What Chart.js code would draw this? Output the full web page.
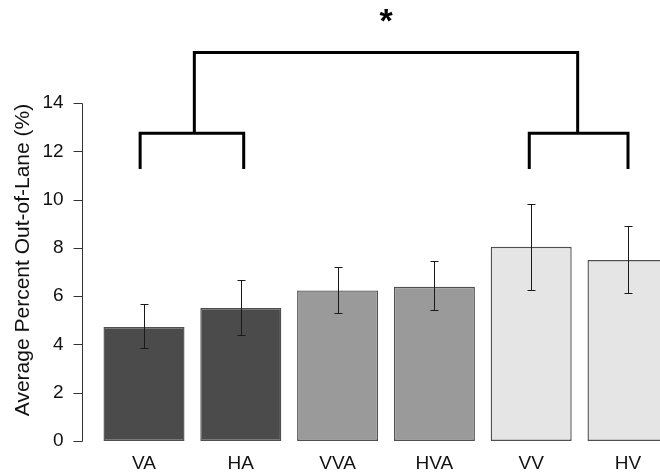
<!DOCTYPE html>
<html><head><meta charset="utf-8">
<script src="https://cdn.jsdelivr.net/npm/chart.js@4.4.1/dist/chart.umd.min.js"></script>
<style>html,body{margin:0;padding:0;overflow:hidden;background:#fff}</style>
</head><body>
<canvas id="c" width="700" height="475" style="display:block;width:700px;height:475px"></canvas>
<script>
// ---- data ----
const categories = ['VA', 'HA', 'VVA', 'HVA', 'VV', 'HV'];
const meanValues = [4.72, 5.51, 6.24, 6.39, 8.05, 7.50];
const errorUpper = [5.66, 6.66, 7.19, 7.44, 9.82, 8.92];
const errorLower = [3.84, 4.38, 5.30, 5.41, 6.27, 6.13];
const yTickValues = [0, 2, 4, 6, 8, 10, 12, 14];
const yAxisTitle = 'Average Percent Out-of-Lane (%)';
// significance brackets (x in category-index units, y in data units)
const innerBrackets = [
  { from: -0.04, to: 1.03, base: 11.27, top: 12.75 },
  { from: 3.98, to: 5.0, base: 11.27, top: 12.75 }
];
const outerBracket = { from: 0.52, to: 4.48, base: 12.75, top: 16.1 };
const sigLabel = '*';
const sigLabelY = 17.65;

// ---- styles ----
const barColors = ['#4b4b4b', '#4b4b4b', '#9a9a9a', '#9a9a9a', '#e5e5e5', '#e5e5e5'];
const FONT = '"Liberation Sans", Arial, sans-serif';

const overlay = {
  id: 'overlay',
  afterDatasetsDraw(chart) {
    const ctx = chart.ctx, x = chart.scales.x, y = chart.scales.y;
    ctx.save();
    // error bars
    ctx.strokeStyle = '#1a1a1a';
    ctx.lineWidth = 1;
    meanValues.forEach((v, i) => {
      const px = Math.round(x.getPixelForValue(i)) + 0.5;
      const yt = Math.round(y.getPixelForValue(errorUpper[i])) + 0.5;
      const yb = Math.round(y.getPixelForValue(errorLower[i])) + 0.5;
      ctx.beginPath();
      ctx.moveTo(px, yt); ctx.lineTo(px, yb);
      ctx.moveTo(px - 4, yt); ctx.lineTo(px + 4, yt);
      ctx.moveTo(px - 4, yb); ctx.lineTo(px + 4, yb);
      ctx.stroke();
    });
    // y axis line & tick marks (R style, only across tick range)
    const ax = Math.round(chart.chartArea.left - 14) + 0.5;
    ctx.strokeStyle = '#333';
    ctx.beginPath();
    ctx.moveTo(ax, Math.round(y.getPixelForValue(yTickValues[0])) + 0.5);
    ctx.lineTo(ax, Math.round(y.getPixelForValue(yTickValues[yTickValues.length - 1])) + 0.5);
    yTickValues.forEach(t => {
      const py = Math.round(y.getPixelForValue(t)) + 0.5;
      ctx.moveTo(ax - 9, py); ctx.lineTo(ax, py);
    });
    ctx.stroke();
    // brackets
    ctx.strokeStyle = '#000';
    ctx.lineWidth = 3;
    ctx.lineJoin = 'miter';
    ctx.lineCap = 'butt';
    const drawBracket = b => {
      const x1 = x.getPixelForValue(b.from), x2 = x.getPixelForValue(b.to);
      const yb = y.getPixelForValue(b.base), yt = y.getPixelForValue(b.top);
      ctx.beginPath();
      ctx.moveTo(x1, yb); ctx.lineTo(x1, yt); ctx.lineTo(x2, yt); ctx.lineTo(x2, yb);
      ctx.stroke();
    };
    innerBrackets.forEach(drawBracket);
    drawBracket(outerBracket);
    // star
    ctx.fillStyle = '#000';
    ctx.font = 'bold 34px ' + FONT;
    ctx.textAlign = 'center';
    ctx.textBaseline = 'alphabetic';
    const m = ctx.measureText(sigLabel);
    const cy = y.getPixelForValue(sigLabelY);
    const baseline = cy + (m.actualBoundingBoxAscent - m.actualBoundingBoxDescent) / 2;
    const cx = x.getPixelForValue((outerBracket.from + outerBracket.to) / 2);
    ctx.fillText(sigLabel, cx, baseline);
    ctx.restore();
  }
};

new Chart(document.getElementById('c'), {
  type: 'bar',
  data: {
    labels: categories,
    datasets: [{
      data: meanValues,
      backgroundColor: barColors,
      borderColor: '#505050',
      borderWidth: 1.4,
      borderSkipped: false,
      categoryPercentage: 1,
      barPercentage: 0.837
    }]
  },
  options: {
    responsive: false,
    animation: false,
    events: [],
    layout: { padding: { top: 79, left: 0, right: 23.6, bottom: 0 } },
    plugins: { legend: { display: false }, tooltip: { enabled: false } },
    scales: {
      x: {
        grid: { display: false, drawTicks: false },
        border: { display: false },
        ticks: { color: '#111', font: { family: FONT, size: 19 }, padding: 11, maxRotation: 0 },
        afterFit(s) { s.height = 34; s.paddingLeft = 0; s.paddingRight = 0; }
      },
      y: {
        min: 0, max: 15,
        afterBuildTicks(s) { s.ticks = yTickValues.map(v => ({ value: v })); },
        grid: { display: false, drawTicks: false },
        border: { display: false },
        ticks: { color: '#111', font: { family: FONT, size: 19 }, padding: 32 },
        title: { display: true, text: yAxisTitle, color: '#111', font: { family: FONT, size: 21 }, padding: { top: 11, bottom: 0 } },
        afterFit(s) { s.width = 95.6; s.paddingTop = 0; s.paddingBottom = 0; }
      }
    }
  },
  plugins: [overlay]
});
</script>
</body></html>
